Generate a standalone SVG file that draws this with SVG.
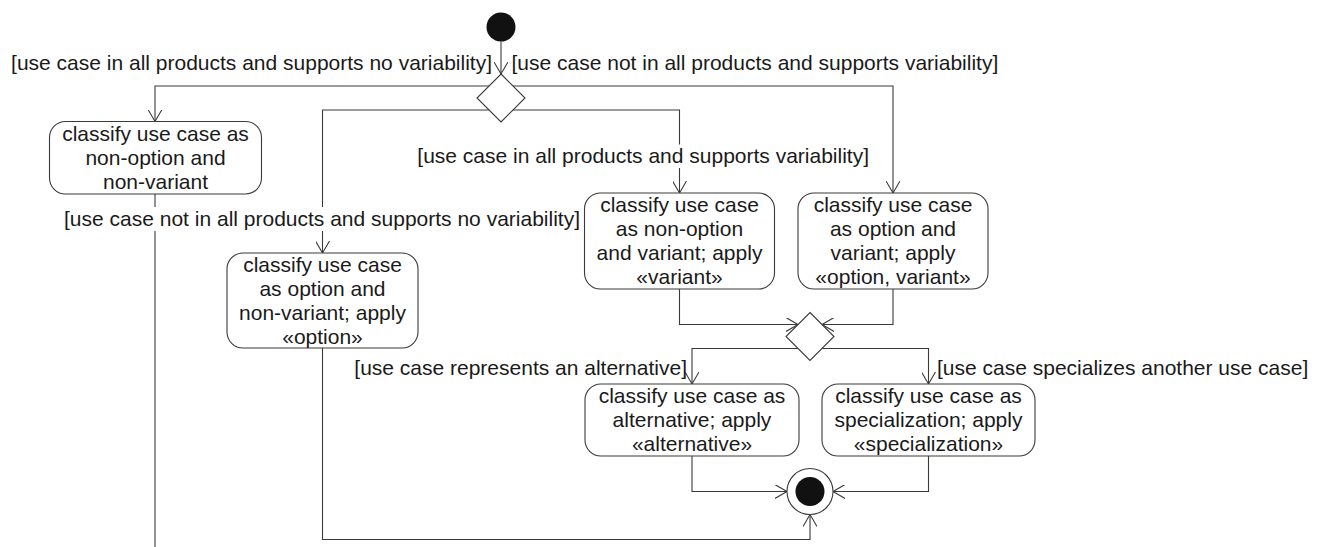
<svg xmlns="http://www.w3.org/2000/svg" width="1326" height="547" viewBox="0 0 1326 547">
<style>
  text { font-family: "Liberation Sans", Arial, sans-serif; font-size: 21px; fill: #1a1a1a; }
  .c { text-anchor: middle; }
  .e { text-anchor: end; }
  .box { fill: #fff; stroke: #3a3a3a; stroke-width: 1.1; }
  .ln { fill: none; stroke: #3a3a3a; stroke-width: 1.1; }
  .ar { fill: none; stroke: #3a3a3a; stroke-width: 1.1; }
  .bg { fill: #fff; }
  .dot { fill: #111; }
</style>
<defs>
  <marker id="arr" viewBox="0 0 14 14" refX="12" refY="7" markerWidth="14" markerHeight="14" markerUnits="userSpaceOnUse" orient="auto">
    <path d="M0,0 L12,7 L0,14" fill="none" stroke="#3a3a3a" stroke-width="1.1"/>
  </marker>
</defs>

<g id="connectors">
  <line class="ln" x1="501" y1="41.5" x2="501" y2="74" marker-end="url(#arr)"/>
  <polyline class="ln" points="489,86 155,86 155,121.5" marker-end="url(#arr)"/>
  <polyline class="ln" points="513,86 893,86 893,193" marker-end="url(#arr)"/>
  <polyline class="ln" points="489,110 322.5,110 322.5,253" marker-end="url(#arr)"/>
  <polyline class="ln" points="513,110 679.5,110 679.5,193" marker-end="url(#arr)"/>
  <line class="ln" x1="155" y1="194" x2="155" y2="547"/>
  <polyline class="ln" points="679.5,289 679.5,324.5 798,324.5" marker-end="url(#arr)"/>
  <polyline class="ln" points="893,289 893,324.5 822,324.5" marker-end="url(#arr)"/>
  <polyline class="ln" points="798,348.5 692,348.5 692,384" marker-end="url(#arr)"/>
  <polyline class="ln" points="822,348.5 928.5,348.5 928.5,384" marker-end="url(#arr)"/>
  <polyline class="ln" points="692,456 692,491.5 787,491.5" marker-end="url(#arr)"/>
  <polyline class="ln" points="928.5,456 928.5,491.5 833,491.5" marker-end="url(#arr)"/>
  <polyline class="ln" points="322.5,348 322.5,539.5 810,539.5 810,514.5" marker-end="url(#arr)"/>
</g>

<g id="guards">
  <text class="e" x="492" y="70">[use case in all products and supports no variability]</text>
  <text x="511.5" y="70">[use case not in all products and supports variability]</text>
  <rect class="bg" x="417" y="144.5" width="453" height="23.5"/>
  <text x="417.3" y="163.3">[use case in all products and supports variability]</text>
  <rect class="bg" x="63" y="207" width="518" height="24"/>
  <text class="e" x="580" y="226">[use case not in all products and supports no variability]</text>
  <text class="e" x="687" y="375">[use case represents an alternative]</text>
  <text x="937" y="375">[use case specializes another use case]</text>
</g>

<g id="initial">
  <circle class="dot" cx="501" cy="27" r="14.5"/>
</g>

<g id="decision1">
  <polygon class="box" points="501,74 525,98 501,122 477,98"/>
</g>

<g id="decision2">
  <polygon class="box" points="810,312.5 834,336.5 810,360.5 786,336.5"/>
</g>

<g id="node-nonoption-nonvariant">
  <rect class="box" x="49.5" y="121.5" width="212" height="72.5" rx="16"/>
  <text class="c" x="155.5" y="141">classify use case as</text>
  <text class="c" x="155.5" y="165">non-option and</text>
  <text class="c" x="155.5" y="189">non-variant</text>
</g>

<g id="node-option-nonvariant">
  <rect class="box" x="227" y="253" width="191" height="95" rx="16"/>
  <text class="c" x="322.5" y="271.5">classify use case</text>
  <text class="c" x="322.5" y="295.5">as option and</text>
  <text class="c" x="322.5" y="319.5">non-variant; apply</text>
  <text class="c" x="322.5" y="343.5">«option»</text>
</g>

<g id="node-nonoption-variant">
  <rect class="box" x="584.5" y="193" width="190" height="96" rx="16"/>
  <text class="c" x="679.5" y="212">classify use case</text>
  <text class="c" x="679.5" y="236">as non-option</text>
  <text class="c" x="679.5" y="260">and variant; apply</text>
  <text class="c" x="679.5" y="284">«variant»</text>
</g>

<g id="node-option-variant">
  <rect class="box" x="798" y="193" width="190" height="96" rx="16"/>
  <text class="c" x="893" y="212">classify use case</text>
  <text class="c" x="893" y="236">as option and</text>
  <text class="c" x="893" y="260">variant; apply</text>
  <text class="c" x="893" y="284">«option, variant»</text>
</g>

<g id="node-alternative">
  <rect class="box" x="585" y="384" width="214" height="72" rx="16"/>
  <text class="c" x="692" y="403">classify use case as</text>
  <text class="c" x="692" y="427">alternative; apply</text>
  <text class="c" x="692" y="451">«alternative»</text>
</g>

<g id="node-specialization">
  <rect class="box" x="822" y="384" width="213" height="72" rx="16"/>
  <text class="c" x="928.5" y="403">classify use case as</text>
  <text class="c" x="928.5" y="427">specialization; apply</text>
  <text class="c" x="928.5" y="451">«specialization»</text>
</g>

<g id="final">
  <circle cx="810" cy="491.5" r="23" fill="#fff" stroke="#3a3a3a" stroke-width="1.1"/>
  <circle class="dot" cx="810" cy="491.5" r="14.5"/>
</g>
</svg>
